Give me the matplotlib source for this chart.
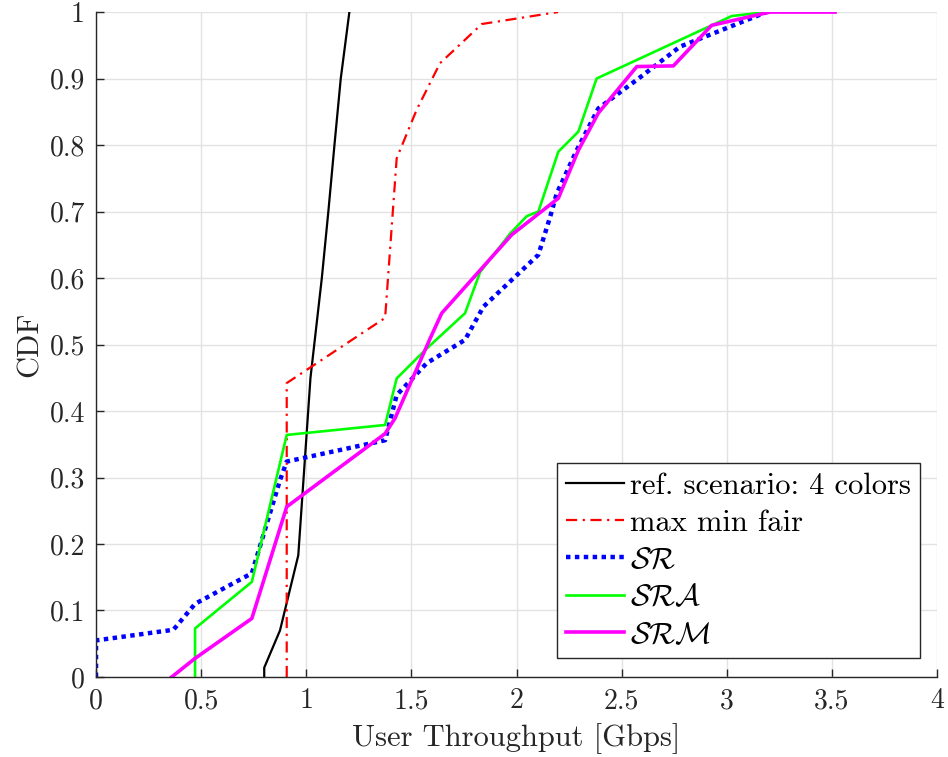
import matplotlib
matplotlib.use("Agg")
import matplotlib.pyplot as plt

# ---- data ----
ref_x = [0.80, 0.80, 0.875, 0.962, 1.02, 1.074, 1.105, 1.134, 1.164, 1.205]
ref_y = [0.0, 0.014, 0.07, 0.183, 0.45, 0.60, 0.70, 0.80, 0.90, 1.0]

mmf_x = [0.907, 0.907, 1.375, 1.430, 1.525, 1.636, 1.835, 2.198]
mmf_y = [0.0, 0.442, 0.540, 0.780, 0.853, 0.923, 0.982, 1.0]

sr_x = [0.0, 0.0, 0.368, 0.471, 0.741, 0.875, 0.907, 1.375, 1.43, 1.573, 1.755,
        1.843, 2.104, 2.160, 2.191, 2.286, 2.389, 2.572, 2.778, 2.937, 3.19]
sr_y = [0.0, 0.055, 0.071, 0.110, 0.156, 0.296, 0.324, 0.356, 0.424, 0.472, 0.507,
        0.557, 0.635, 0.692, 0.727, 0.792, 0.855, 0.898, 0.948, 0.968, 1.0]

sra_x = [0.471, 0.471, 0.741, 0.907, 1.375, 1.430, 1.573, 1.755, 1.827, 1.970,
         2.049, 2.104, 2.199, 2.294, 2.381, 3.024, 3.19]
sra_y = [0.0, 0.073, 0.143, 0.364, 0.379, 0.449, 0.494, 0.547, 0.609, 0.667,
         0.693, 0.700, 0.790, 0.820, 0.900, 0.994, 1.0]

srm_x = [0.36, 0.471, 0.741, 0.907, 1.375, 1.422, 1.589, 1.644, 1.977, 2.199,
         2.294, 2.389, 2.572, 2.746, 2.928, 3.206, 3.515]
srm_y = [0.0, 0.028, 0.088, 0.256, 0.366, 0.389, 0.509, 0.547, 0.665, 0.720,
         0.792, 0.848, 0.918, 0.919, 0.980, 1.0, 1.0]

labels = ["ref. scenario: 4 colors", "max min fair",
          r"$\mathcal{SR}$", r"$\mathcal{SRA}$", r"$\mathcal{SRM}$"]

xticks = [0, 0.5, 1, 1.5, 2, 2.5, 3, 3.5, 4]
xticklabels = ["0", "0.5", "1", "1.5", "2", "2.5", "3", "3.5", "4"]
yticks = [0, 0.1, 0.2, 0.3, 0.4, 0.5, 0.6, 0.7, 0.8, 0.9, 1.0]
yticklabels = ["0", "0.1", "0.2", "0.3", "0.4", "0.5", "0.6", "0.7", "0.8", "0.9", "1"]

# ---- style ----
plt.rcParams["font.family"] = "serif"
plt.rcParams["font.serif"] = ["cmr10", "DejaVu Serif"]
plt.rcParams["mathtext.fontset"] = "cm"
plt.rcParams["axes.formatter.use_mathtext"] = True

fig = plt.figure(figsize=(9.48, 7.57), dpi=100)
ax = fig.add_axes([0.1013, 0.1057, 0.8871, 0.8784])

ax.plot(ref_x, ref_y, color="black", lw=1.6, label=labels[0])
ax.plot(mmf_x, mmf_y, color="red", lw=1.6, linestyle=(0, (5, 2.5, 1, 2.5)), label=labels[1])
ax.plot(sr_x, sr_y, color="blue", lw=3.2, linestyle=(0, (1, 1)),
        dash_capstyle="butt", label=labels[2])
ax.plot(sra_x, sra_y, color="#00ff00", lw=1.9, label=labels[3])
ax.plot(srm_x, srm_y, color="magenta", lw=2.6, label=labels[4])

ax.set_xlim(0, 4)
ax.set_ylim(0, 1)
ax.set_xticks(xticks)
ax.set_xticklabels(xticklabels)
ax.set_yticks(yticks)
ax.set_yticklabels(yticklabels)
ax.grid(True, color="#e2e2e2", lw=1.0)
ax.set_axisbelow(True)

for s in ["top", "right"]:
    ax.spines[s].set_visible(False)
for s in ["left", "bottom"]:
    ax.spines[s].set_color("#262626")
    ax.spines[s].set_linewidth(1.0)

ax.tick_params(direction="in", length=6, width=1.0, colors="#262626",
               labelsize=20, pad=8)
ax.set_xlabel("User Throughput [Gbps]", fontsize=22, color="#262626", labelpad=6)
ax.set_ylabel("CDF", fontsize=22, color="#262626", labelpad=4)

leg = ax.legend(loc="lower right", bbox_to_anchor=(0.98, 0.0286), borderaxespad=0,
                fontsize=22, handlelength=1.9, handletextpad=0.2,
                labelspacing=0.32, borderpad=0.3, fancybox=False, framealpha=1)
leg.get_frame().set_edgecolor("#262626")
leg.get_frame().set_linewidth(1.0)

fig.savefig("out.png", dpi=100)
